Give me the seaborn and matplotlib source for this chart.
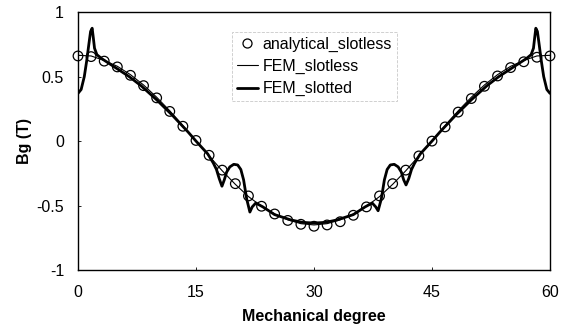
import matplotlib
matplotlib.use("Agg")
import matplotlib.pyplot as plt
import seaborn as sns
import pandas as pd
from matplotlib.lines import Line2D

# ---- data ----
analytical_x = [0, 1.667, 3.333, 5, 6.667, 8.333, 10, 11.667, 13.333, 15, 16.667, 18.333,
                20, 21.667, 23.333, 25, 26.667, 28.333, 30, 31.667, 33.333, 35, 36.667,
                38.333, 40, 41.667, 43.333, 45, 46.667, 48.333, 50, 51.667, 53.333, 55,
                56.667, 58.333, 60]
analytical_y = [0.66, 0.655, 0.62, 0.575, 0.51, 0.43, 0.335, 0.23, 0.115, 0.005, -0.11,
                -0.225, -0.33, -0.425, -0.505, -0.565, -0.615, -0.645, -0.66, -0.65,
                -0.625, -0.575, -0.51, -0.425, -0.33, -0.225, -0.115, 0.0, 0.11, 0.225,
                0.33, 0.425, 0.505, 0.57, 0.615, 0.65, 0.66]

slotless_x = [0, 1.667, 3.333, 5, 6.667, 8.333, 10, 11.667, 13.333, 15, 16.667, 18.333,
              20, 21.667, 23.333, 25, 26.667, 28.333, 30, 31.667, 33.333, 35, 36.667,
              38.333, 40, 41.667, 43.333, 45, 46.667, 48.333, 50, 51.667, 53.333, 55,
              56.667, 58.333, 60]
slotless_y = [0.665, 0.66, 0.625, 0.58, 0.515, 0.435, 0.34, 0.235, 0.12, 0.0, -0.115,
              -0.23, -0.335, -0.43, -0.505, -0.565, -0.61, -0.64, -0.65, -0.64, -0.61,
              -0.565, -0.505, -0.43, -0.335, -0.23, -0.115, 0.0, 0.12, 0.235, 0.34,
              0.435, 0.515, 0.58, 0.625, 0.66, 0.665]

slotted_x = [0, 0.4, 0.8, 1.1, 1.4, 1.6, 1.8, 1.95, 2.1, 2.4, 3.0, 4, 5, 6.5, 8, 10, 12,
             14, 15, 16.5, 17.2, 17.6, 17.95, 18.3, 18.6, 18.9, 19.3, 19.8, 20.3, 20.7,
             21.05, 21.45, 21.85, 22.15, 22.6, 23.5, 25, 27, 28.5, 30,
             31.5, 33, 35, 36.5, 37.4, 37.85, 38.15, 38.55, 38.95, 39.3, 39.7, 40.2,
             40.7, 41.1, 41.4, 41.7, 42.05, 42.4, 42.8, 43.5, 45, 46, 48, 50, 52, 53.5,
             55, 56, 57, 57.6, 57.9, 58.05, 58.2, 58.4, 58.6, 58.9, 59.2, 59.6, 60]
slotted_y = [0.37, 0.40, 0.50, 0.62, 0.76, 0.85, 0.875, 0.80, 0.72, 0.67, 0.64, 0.60,
             0.56, 0.50, 0.43, 0.32, 0.20, 0.07, 0.0, -0.10, -0.17, -0.22, -0.29, -0.35,
             -0.30, -0.24, -0.20, -0.18, -0.185, -0.22, -0.30, -0.45, -0.55, -0.51,
             -0.48, -0.51, -0.57, -0.61, -0.63, -0.635,
             -0.63, -0.61, -0.57, -0.51, -0.48, -0.51, -0.54, -0.45, -0.30, -0.22,
             -0.185, -0.18, -0.20, -0.24, -0.30, -0.34, -0.29, -0.22, -0.17, -0.10, 0.0,
             0.07, 0.20, 0.32, 0.43, 0.50, 0.56, 0.60, 0.64, 0.67, 0.72, 0.80, 0.875,
             0.85, 0.76, 0.62, 0.50, 0.40, 0.37]

legend_labels = ["analytical_slotless", "FEM_slotless", "FEM_slotted"]
x_ticks = [0, 15, 30, 45, 60]
y_ticks = [-1, -0.5, 0, 0.5, 1]

# ---- plot ----
sns.set_style("ticks")
plt.rcParams["font.family"] = ["Liberation Sans", "DejaVu Sans"]
plt.rcParams["text.color"] = "black"
plt.rcParams["axes.labelcolor"] = "black"

fig = plt.figure(figsize=(5.71, 3.27), dpi=100)
ax = fig.add_axes([0.1366, 0.174, 0.8266, 0.789])

df_slotted = pd.DataFrame({"x": slotted_x, "y": slotted_y})
df_slotless = pd.DataFrame({"x": slotless_x, "y": slotless_y})
df_an = pd.DataFrame({"x": analytical_x, "y": analytical_y})

sns.lineplot(data=df_slotted, x="x", y="y", ax=ax, color="black", linewidth=2.0,
             sort=False, estimator=None)
sns.lineplot(data=df_slotless, x="x", y="y", ax=ax, color="black", linewidth=0.8,
             sort=False, estimator=None)
sns.scatterplot(data=df_an, x="x", y="y", ax=ax, marker="o", s=48,
                facecolors="none", edgecolor="black", linewidth=0.9, zorder=5,
                clip_on=False)

ax.set_xlim(0, 60)
ax.set_ylim(-1, 1)
ax.set_xticks(x_ticks)
ax.set_xticklabels([str(v) for v in x_ticks])
ax.set_yticks(y_ticks)
ax.set_yticklabels(["-1", "-0.5", "0", "0.5", "1"])
ax.tick_params(direction="in", length=2, width=0.6, labelsize=11.5,
               colors="black", labelcolor="black")
ax.tick_params(axis="x", pad=11)
ax.tick_params(axis="y", pad=10)
for sp in ax.spines.values():
    sp.set_visible(True)
    sp.set_color("black")
    sp.set_linewidth(1.0)

ax.set_xlabel("Mechanical degree", fontsize=11.5, fontweight="bold", labelpad=6,
              color="black")
ax.set_ylabel("Bg (T)", fontsize=11.5, fontweight="bold", labelpad=3, color="black")

handles = [
    Line2D([], [], marker="o", linestyle="none", markerfacecolor="none",
           markeredgecolor="black", markersize=6.5, markeredgewidth=0.9),
    Line2D([], [], color="black", linewidth=0.8),
    Line2D([], [], color="black", linewidth=2.0),
]
leg = ax.legend(handles, legend_labels, loc="upper left", bbox_to_anchor=(0.31, 0.955),
                fontsize=11.5, frameon=True, fancybox=False, handlelength=1.3,
                handletextpad=0.3, labelspacing=0.45, borderpad=0.3)
for t in leg.get_texts():
    t.set_color("black")
leg.get_frame().set_edgecolor("#bbbbbb")
leg.get_frame().set_linewidth(0.6)
leg.get_frame().set_linestyle("--")

fig.savefig("out.png", dpi=100)
